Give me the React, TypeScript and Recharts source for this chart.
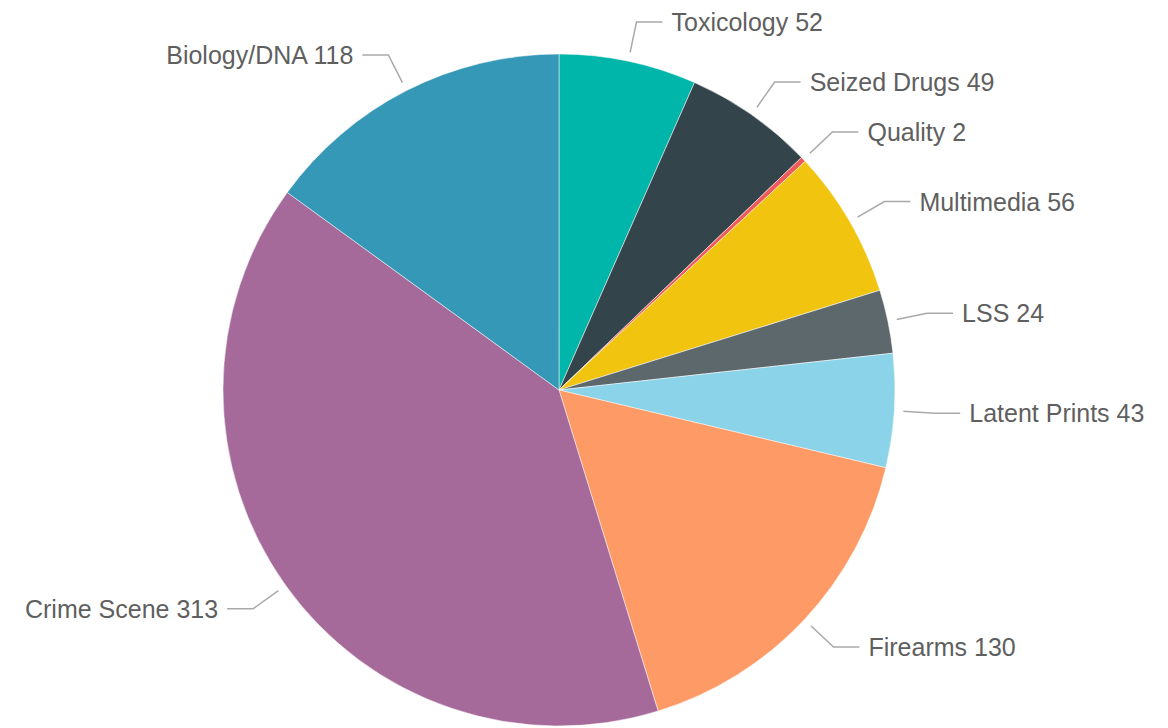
import React from 'react';
import { PieChart, Pie, Cell } from 'recharts';

const categories = ['Toxicology', 'Seized Drugs', 'Quality', 'Multimedia', 'LSS', 'Latent Prints', 'Firearms', 'Crime Scene', 'Biology/DNA'];
const counts = [52, 49, 2, 56, 24, 43, 130, 313, 118];
const colors = ['#00b5a9', '#34444b', '#f05a5a', '#f1c40f', '#5d686c', '#8bd3e8', '#fe9a66', '#a5699a', '#3498b6'];

const data = categories.map((name, i) => ({ name, value: counts[i] }));

const RAD = Math.PI / 180;

const renderLabel = (props: any) => {
  const { cx, cy, midAngle, outerRadius, name, value } = props;
  const cos = Math.cos(-midAngle * RAD);
  const sin = Math.sin(-midAngle * RAD);
  const r1 = outerRadius + 9;
  const r2 = outerRadius + 40;
  const x1 = cx + r1 * cos;
  const y1 = cy + r1 * sin;
  const x2 = cx + r2 * cos;
  const y2 = cy + r2 * sin;
  const right = x2 >= cx;
  const x3 = x2 + (right ? 26 : -26);
  const tx = x3 + (right ? 9 : -9);
  return (
    <g key={`lbl-${name}`}>
      <polyline points={`${x1},${y1} ${x2},${y2} ${x3},${y2}`} fill="none" stroke="#a9a9a9" strokeWidth={1.5} />
      <text x={tx} y={y2} textAnchor={right ? 'start' : 'end'} dominantBaseline="central" fill="#5f5f5f" fontSize={25} fontFamily="'Liberation Sans', Arial, sans-serif">
        {`${name} ${value}`}
      </text>
    </g>
  );
};

export default function App() {
  return (
    <div style={{ position: 'absolute', left: 0, top: 0, width: 1168, height: 728, background: '#fff' }}>
      <PieChart width={1168} height={728} margin={{ top: 0, right: 0, bottom: 0, left: 0 }}>
        <Pie
          data={data}
          dataKey="value"
          nameKey="name"
          cx={559}
          cy={390}
          outerRadius={336}
          startAngle={90}
          endAngle={-270}
          stroke="#ffffff"
          strokeWidth={0.5}
          label={renderLabel}
          labelLine={false}
          isAnimationActive={false}
        >
          {data.map((d, i) => (
            <Cell key={d.name} fill={colors[i]} />
          ))}
        </Pie>
      </PieChart>
    </div>
  );
}
